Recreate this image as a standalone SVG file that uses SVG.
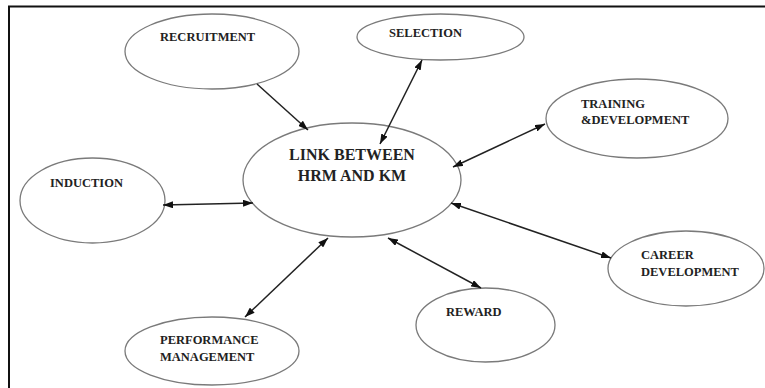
<svg xmlns="http://www.w3.org/2000/svg" width="765" height="388" viewBox="0 0 765 388">
<defs>
<style>
.node ellipse{fill:#fff;stroke:#7a7a7a;stroke-width:1.3}
.lbl{font-family:"Liberation Serif","Times New Roman",serif;font-weight:bold;font-size:12.5px;fill:#222}
.big{font-size:16px;text-anchor:middle}
.conn line{stroke:#222;stroke-width:1.5}
</style>
<marker id="ah" viewBox="0 0 10 7" refX="10" refY="3.5" markerWidth="10" markerHeight="7" markerUnits="userSpaceOnUse" orient="auto-start-reverse">
<path d="M0,0 L10,3.5 L0,7 z" fill="#111"/>
</marker>
</defs>
<rect width="765" height="388" fill="#fff"/>
<g id="frame" stroke="#111" stroke-width="2">
<line x1="8" y1="6.5" x2="765" y2="6.5"/>
<line x1="9" y1="6" x2="9" y2="388"/>
</g>
<g id="center" class="node">
<ellipse cx="352" cy="180" rx="109" ry="57"/>
<text class="lbl big" x="352" y="160">LINK BETWEEN</text>
<text class="lbl big" x="352" y="181">HRM AND KM</text>
</g>
<g id="recruitment" class="node">
<ellipse cx="212" cy="51.5" rx="87" ry="37.5"/>
<text class="lbl" x="160" y="41">RECRUITMENT</text>
</g>
<g id="selection" class="node">
<ellipse cx="440.5" cy="37" rx="83.5" ry="23"/>
<text class="lbl" x="389" y="37">SELECTION</text>
</g>
<g id="training" class="node">
<ellipse cx="637" cy="118.5" rx="91" ry="39.5"/>
<text class="lbl" x="581" y="108">TRAINING</text>
<text class="lbl" x="581" y="124">&amp;DEVELOPMENT</text>
</g>
<g id="induction" class="node">
<ellipse cx="92.5" cy="200.5" rx="72.5" ry="42.5"/>
<text class="lbl" x="50" y="187">INDUCTION</text>
</g>
<g id="performance" class="node">
<ellipse cx="212" cy="351" rx="87" ry="34"/>
<text class="lbl" x="160" y="344">PERFORMANCE</text>
<text class="lbl" x="160" y="361">MANAGEMENT</text>
</g>
<g id="reward" class="node">
<ellipse cx="485.5" cy="325" rx="69.5" ry="37"/>
<text class="lbl" x="446" y="316">REWARD</text>
</g>
<g id="career" class="node">
<ellipse cx="686" cy="268.5" rx="78" ry="37.5"/>
<text class="lbl" x="641" y="259">CAREER</text>
<text class="lbl" x="641" y="276">DEVELOPMENT</text>
</g>
<g id="connectors" class="conn">
<line x1="257" y1="84" x2="308" y2="130" marker-end="url(#ah)"/>
<line x1="422" y1="60" x2="380" y2="144" marker-start="url(#ah)" marker-end="url(#ah)"/>
<line x1="453" y1="167" x2="545" y2="124" marker-start="url(#ah)" marker-end="url(#ah)"/>
<line x1="163" y1="205" x2="253" y2="203" marker-start="url(#ah)" marker-end="url(#ah)"/>
<line x1="245" y1="317" x2="328" y2="238" marker-start="url(#ah)" marker-end="url(#ah)"/>
<line x1="388" y1="238" x2="481" y2="288" marker-start="url(#ah)" marker-end="url(#ah)"/>
<line x1="451" y1="203" x2="611" y2="258" marker-start="url(#ah)" marker-end="url(#ah)"/>
</g>
</svg>
